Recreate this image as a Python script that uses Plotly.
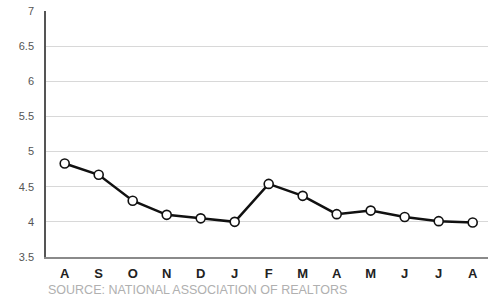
import plotly.graph_objects as go

months = ["A", "S", "O", "N", "D", "J", "F", "M", "A", "M", "J", "J", "A"]
values = [4.83, 4.67, 4.30, 4.10, 4.05, 4.00, 4.54, 4.37, 4.11, 4.16, 4.07, 4.01, 3.99]
y_ticks = [3.5, 4, 4.5, 5, 5.5, 6, 6.5, 7]
y_labels = ["3.5", "4", "4.5", "5", "5.5", "6", "6.5", "7"]
source = "SOURCE: NATIONAL ASSOCIATION OF REALTORS"

idx = list(range(len(months)))

fig = go.Figure()
fig.add_trace(go.Scatter(
    x=idx, y=values, mode="lines+markers",
    line=dict(color="#111111", width=2.5),
    marker=dict(size=9, color="white", line=dict(color="#111111", width=1.6)),
    hoverinfo="skip", cliponaxis=False,
))

fig.update_layout(
    width=488, height=298,
    margin=dict(l=46, r=0, t=11, b=41, autoexpand=False),
    paper_bgcolor="white", plot_bgcolor="white",
    showlegend=False,
    font=dict(family="Liberation Sans, Arial, sans-serif"),
    xaxis=dict(
        range=[-0.55, 12.45],
        tickmode="array", tickvals=idx, ticktext=["<b>%s</b>" % m for m in months],
        tickfont=dict(size=13, color="#222222"),
        showgrid=False, zeroline=False,
        showline=True, linecolor="#8a8a8a", linewidth=2,
        ticks="", ticklabelstandoff=3, automargin=False,
    ),
    yaxis=dict(
        range=[3.5, 7],
        tickmode="array", tickvals=y_ticks, ticktext=y_labels,
        tickfont=dict(size=11, color="#555555"),
        showgrid=True, gridcolor="#d8d8d8", gridwidth=1,
        zeroline=False,
        showline=True, linecolor="#555555", linewidth=1.5,
        ticks="", ticklabelstandoff=8, automargin=False,
    ),
)

fig.add_annotation(
    text=source, xref="paper", yref="paper", x=0.0, y=-0.135,
    xanchor="left", yanchor="middle", showarrow=False,
    font=dict(size=12.5, color="#b0b0b0"),
)

fig.write_html(
    "out.html",
    config={"displayModeBar": False},
    post_script="document.body.style.margin='0';document.body.style.overflow='hidden';",
)
